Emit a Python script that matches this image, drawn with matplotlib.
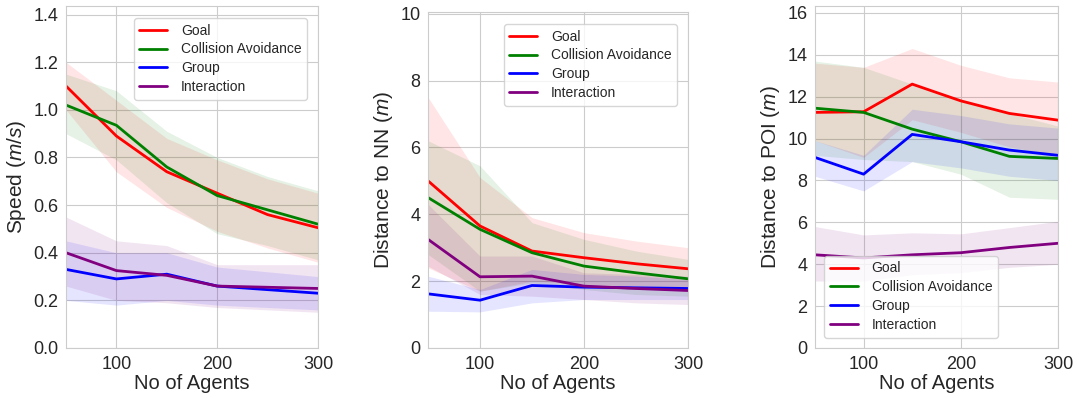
import matplotlib
matplotlib.use("Agg")
import matplotlib.pyplot as plt
import seaborn as sns

sns.set_style("whitegrid")
plt.rcParams['font.family'] = ['Liberation Sans', 'DejaVu Sans']
plt.rcParams['mathtext.fontset'] = 'custom'
plt.rcParams['mathtext.it'] = 'Liberation Sans:italic'
plt.rcParams['mathtext.rm'] = 'Liberation Sans'

# ---------------- DATA ----------------
agents = [50, 100, 150, 200, 250, 300]
series_names = ["Goal", "Collision Avoidance", "Group", "Interaction"]
series_colors = ["red", "green", "blue", "purple"]

# Speed (m/s)
speed_goal = [1.10, 0.89, 0.74, 0.65, 0.56, 0.505]
speed_goal_hi = [1.20, 1.04, 0.88, 0.79, 0.71, 0.65]
speed_goal_lo = [1.00, 0.74, 0.59, 0.49, 0.42, 0.36]
speed_coll = [1.02, 0.935, 0.76, 0.64, 0.58, 0.52]
speed_coll_hi = [1.15, 1.08, 0.91, 0.80, 0.72, 0.66]
speed_coll_lo = [0.90, 0.79, 0.61, 0.48, 0.43, 0.37]
speed_group = [0.33, 0.29, 0.31, 0.26, 0.245, 0.23]
speed_group_hi = [0.45, 0.40, 0.40, 0.34, 0.32, 0.30]
speed_group_lo = [0.20, 0.18, 0.20, 0.18, 0.17, 0.16]
speed_inter = [0.40, 0.325, 0.305, 0.26, 0.255, 0.25]
speed_inter_hi = [0.55, 0.45, 0.43, 0.35, 0.35, 0.35]
speed_inter_lo = [0.26, 0.20, 0.19, 0.17, 0.16, 0.15]

# Distance to nearest neighbour (m)
nn_goal = [5.0, 3.65, 2.9, 2.7, 2.52, 2.37]
nn_goal_hi = [7.5, 5.1, 3.9, 3.45, 3.2, 3.0]
nn_goal_lo = [2.4, 1.7, 2.0, 1.9, 1.8, 1.7]
nn_coll = [4.5, 3.55, 2.85, 2.45, 2.25, 2.07]
nn_coll_hi = [6.2, 5.45, 3.75, 3.25, 2.9, 2.65]
nn_coll_lo = [2.8, 1.7, 1.95, 1.75, 1.6, 1.55]
nn_group = [1.62, 1.43, 1.87, 1.82, 1.80, 1.78]
nn_group_hi = [2.15, 1.75, 2.35, 2.2, 2.15, 2.05]
nn_group_lo = [1.1, 1.08, 1.35, 1.45, 1.45, 1.45]
nn_inter = [3.25, 2.13, 2.15, 1.85, 1.78, 1.72]
nn_inter_hi = [4.3, 2.75, 2.75, 2.25, 2.2, 2.15]
nn_inter_lo = [2.45, 1.6, 1.55, 1.45, 1.35, 1.3]

# Distance to point of interest (m)
poi_goal = [11.25, 11.28, 12.6, 11.8, 11.2, 10.88]
poi_goal_hi = [13.6, 13.4, 14.3, 13.5, 12.9, 12.7]
poi_goal_lo = [9.9, 9.1, 10.9, 10.3, 9.6, 9.2]
poi_coll = [11.45, 11.25, 10.45, 9.85, 9.15, 9.05]
poi_coll_hi = [13.7, 13.4, 12.6, 11.9, 11.2, 10.6]
poi_coll_lo = [9.2, 9.0, 8.9, 8.3, 7.2, 7.1]
poi_group = [9.1, 8.3, 10.2, 9.85, 9.45, 9.2]
poi_group_hi = [9.9, 9.2, 11.4, 11.1, 10.7, 10.5]
poi_group_lo = [8.2, 7.5, 8.9, 8.6, 8.2, 8.0]
poi_inter = [4.45, 4.3, 4.45, 4.55, 4.8, 5.0]
poi_inter_hi = [5.8, 5.4, 5.5, 5.45, 5.75, 6.05]
poi_inter_lo = [3.2, 3.2, 3.5, 3.6, 3.85, 4.0]

panels = [
    {
        "means": [speed_goal, speed_coll, speed_group, speed_inter],
        "his": [speed_goal_hi, speed_coll_hi, speed_group_hi, speed_inter_hi],
        "los": [speed_goal_lo, speed_coll_lo, speed_group_lo, speed_inter_lo],
        "ylabel": "Speed ($m/s$)",
        "ylim": (0, 1.436),
        "yticks": [0.0, 0.2, 0.4, 0.6, 0.8, 1.0, 1.2, 1.4],
        "yfmt": "{:.1f}",
        "pos": [66 / 1079, 50 / 398, 252 / 1079, 342 / 398],
        "legend": dict(loc="upper right", bbox_to_anchor=(0.985, 0.985)),
    },
    {
        "means": [nn_goal, nn_coll, nn_group, nn_inter],
        "his": [nn_goal_hi, nn_coll_hi, nn_group_hi, nn_inter_hi],
        "los": [nn_goal_lo, nn_coll_lo, nn_group_lo, nn_inter_lo],
        "ylabel": "Distance to NN ($m$)",
        "ylim": (0, 10.05),
        "yticks": [0, 2, 4, 6, 8, 10],
        "yfmt": "{:d}",
        "pos": [428 / 1079, 50 / 398, 260 / 1079, 336 / 398],
        "legend": dict(loc="upper right", bbox_to_anchor=(0.985, 0.985)),
    },
    {
        "means": [poi_goal, poi_coll, poi_group, poi_inter],
        "his": [poi_goal_hi, poi_coll_hi, poi_group_hi, poi_inter_hi],
        "los": [poi_goal_lo, poi_coll_lo, poi_group_lo, poi_inter_lo],
        "ylabel": "Distance to POI ($m$)",
        "ylim": (0, 16.33),
        "yticks": [0, 2, 4, 6, 8, 10, 12, 14, 16],
        "yfmt": "{:d}",
        "pos": [815 / 1079, 50 / 398, 243 / 1079, 342 / 398],
        "legend": dict(loc="lower left", bbox_to_anchor=(0.01, 0.01)),
    },
]

fig = plt.figure(figsize=(10.79, 3.98), dpi=100)

for p in panels:
    ax = fig.add_axes(p["pos"])
    for name, color, m, hi, lo in zip(series_names, series_colors,
                                      p["means"], p["his"], p["los"]):
        ax.fill_between(agents, lo, hi, color=color, alpha=0.1, linewidth=0)
        ax.plot(agents, m, color=color, linewidth=2, label=name)
    ax.set_xlim(50, 300)
    ax.set_ylim(*p["ylim"])
    ax.set_xticks([100, 200, 300])
    ax.set_yticks(p["yticks"])
    ax.set_yticklabels([p["yfmt"].format(t) for t in p["yticks"]])
    ax.tick_params(labelsize=13, colors="#262626", pad=2)
    ax.set_xlabel("No of Agents", fontsize=14.5, color="#262626", labelpad=1)
    ax.set_ylabel(p["ylabel"], fontsize=15, color="#262626", labelpad=4)
    leg = ax.legend(fontsize=10, frameon=True, borderpad=0.4,
                    handlelength=2.0, labelspacing=0.35, handletextpad=1.0,
                    labelcolor="#262626", **p["legend"])
    leg.get_frame().set_edgecolor("#cccccc")
    leg.get_frame().set_facecolor("white")

fig.savefig("out.png", dpi=100)
